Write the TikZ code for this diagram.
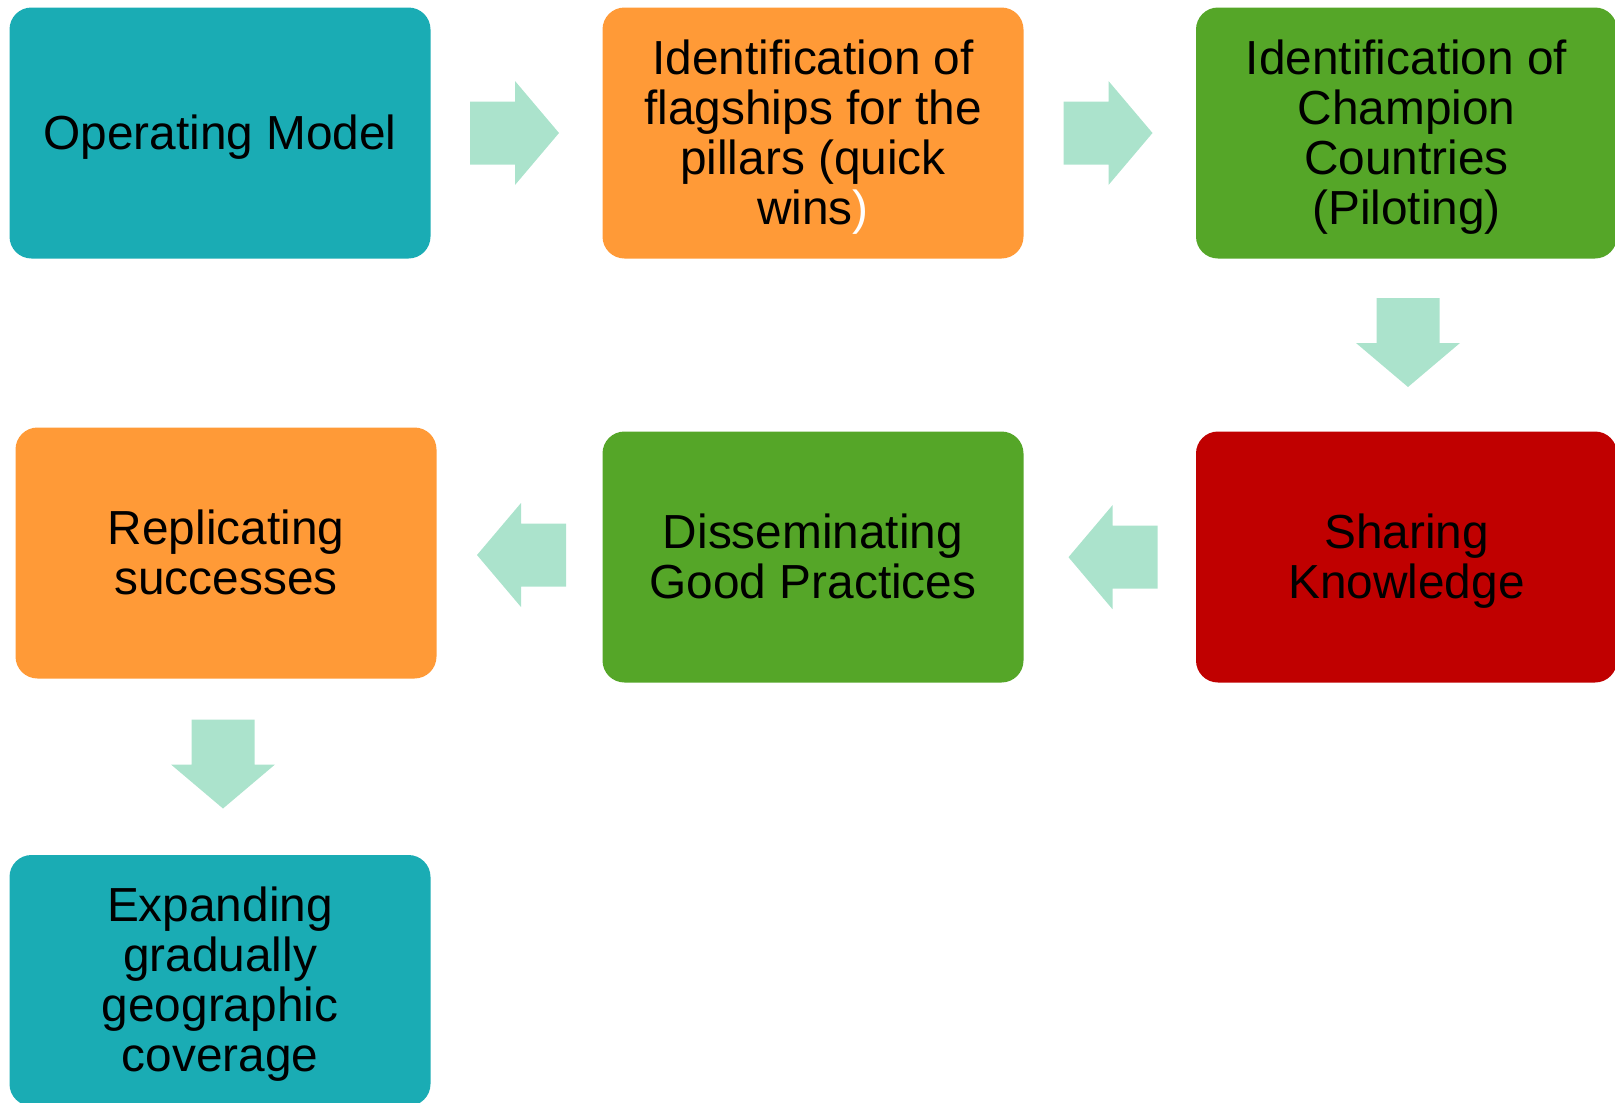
\documentclass[tikz,border=0pt]{standalone}
\usepackage{xcolor}
\usepackage{tikz}
\usepackage{fontspec}
\setmainfont{Liberation Sans}

\definecolor{tealbox}{RGB}{26,172,180}
\definecolor{orangebox}{RGB}{255,154,55}
\definecolor{greenbox}{RGB}{85,166,40}
\definecolor{redbox}{RGB}{192,0,0}
\definecolor{flowgreen}{RGB}{171,227,204}

\newcommand{\topline}{\rule{0pt}{42pt}}

\tikzset{pics/flowarrow/.style={code={
	\fill[flowgreen] (0,-31.5) -- (45,-31.5) -- (45,-52) -- (89,0) -- (45,52) -- (45,31.5) -- (0,31.5) -- cycle;
}}}

\begin{document}
\begin{tikzpicture}[x=1pt,y=-1pt]
	
	\tikzstyle{stage} = [rounded corners=22pt,minimum width=421pt,minimum height=251pt,inner sep=0pt,align=center,font=\fontsize{47.8}{50}\selectfont,
		execute at end node={\rule[-10pt]{0pt}{10pt}}]
	
	\useasboundingbox (0,0) rectangle (1615,1103);
	
	% first row
	\node[stage,fill=tealbox] (opmodel) at (220,133) {\topline Operating Model};
	\node[stage,fill=orangebox] (flagships) at (813,133) {\topline Identification of\\flagships for the\\pillars (quick\\wins{\color{white})}};
	\node[stage,fill=greenbox] (champions) at (1406.5,133) {\topline Identification of\\Champion\\Countries\\(Piloting)};
	
	% second row
	\node[stage,fill=redbox] (sharing) at (1406.5,557) {\topline Sharing\\Knowledge};
	\node[stage,fill=greenbox] (dissem) at (813,557) {\topline Disseminating\\Good Practices};
	\node[stage,fill=orangebox] (replic) at (226,553) {\topline Replicating\\successes};
	
	\node[stage,fill=tealbox] (expand) at (220,980.5) {\topline Expanding\\gradually\\geographic\\coverage};
	
	% block arrows, placed at their tails
	\coordinate (fa1) at (470,133);
	\coordinate (fa2) at (1063.5,133);
	\coordinate (fa3) at (1408,298);
	\coordinate (fa4) at (1157.5,557.2);
	\coordinate (fa5) at (566,555);
	\coordinate (fa6) at (223,719.5);
	
	\pic at (fa1) {flowarrow};
	\pic at (fa2) {flowarrow};
	\pic[rotate=-90] at (fa3) {flowarrow};
	\pic[rotate=180] at (fa4) {flowarrow};
	\pic[rotate=180] at (fa5) {flowarrow};
	\pic[rotate=-90] at (fa6) {flowarrow};
	
\end{tikzpicture}
\end{document}
